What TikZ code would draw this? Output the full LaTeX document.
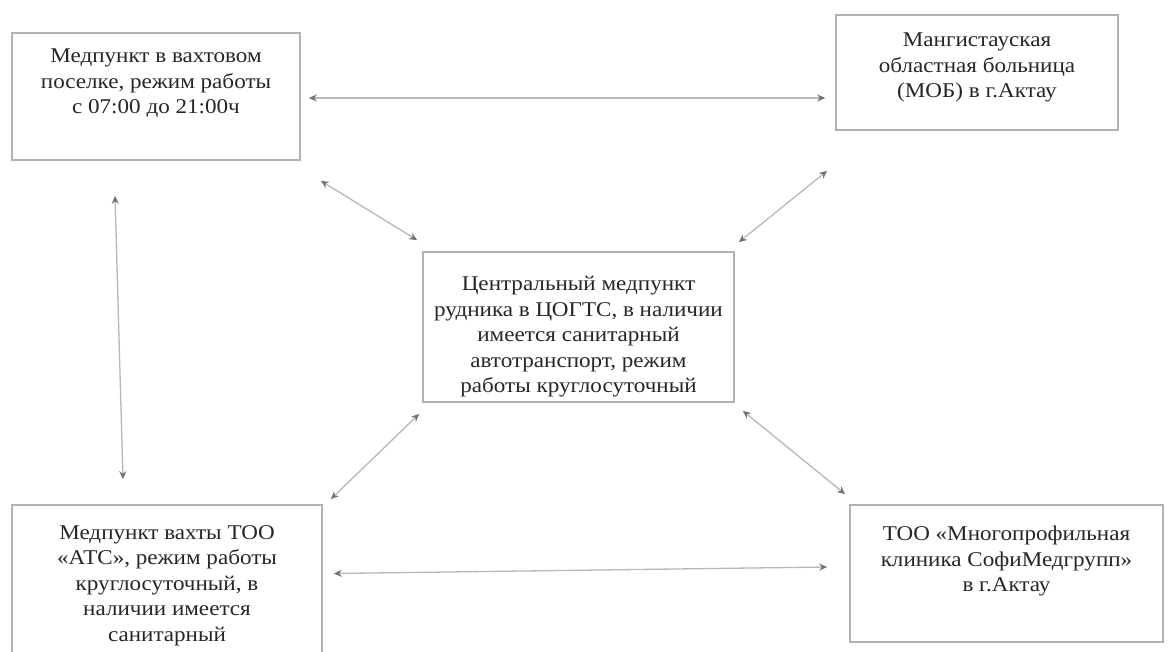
\documentclass[tikz,border=0pt]{standalone}
\usepackage{fontspec}
\setmainfont{Liberation Serif}
\newfontfamily\wideserif[FakeStretch=1.1]{Liberation Serif}
\usetikzlibrary{arrows.meta,calc}
\begin{document}
\begin{tikzpicture}[x=1pt,y=-1pt,
  box/.style={draw=black!30, line width=1.6pt, fill=white, inner sep=0pt},
  txt/.style={align=center, font=\wideserif\fontsize{21}{25.5}\selectfont, text=black!85, inner sep=0pt, anchor=north},
  arr/.style={draw=black!28, line width=1.3pt,
    {Stealth[length=8pt,width=7pt,color=black!55]}-{Stealth[length=8pt,width=7pt,color=black!55]}}]
\useasboundingbox (0,0) rectangle (1168,652);
\fill[white] (0,0) rectangle (1168,652);

\node[box, minimum width=288pt, minimum height=127pt] (b1) at (156,96.5) {};
\node[box, minimum width=282pt, minimum height=115pt] (b2) at (977,72.5) {};
\node[box, minimum width=311pt, minimum height=150pt] (b3) at (578.5,327) {};
\node[box, minimum width=310pt, minimum height=157pt] (b4) at (167,583.5) {};
\node[box, minimum width=313pt, minimum height=137pt] (b5) at (1006.5,573.5) {};

\node[txt] (t1) at (156,49) {Медпункт в вахтовом\\поселке, режим работы\\с 07:00 до 21:00ч};
\node[txt] (t2) at (977,33) {Мангистауская\\областная больница\\(МОБ) в г.Актау};
\node[txt] (t3) at (578.5,276) {Центральный медпункт\\рудника в ЦОГТС, в наличии\\имеется санитарный\\автотранспорт, режим\\работы круглосуточный};
\node[txt] (t4) at (167,525) {Медпункт вахты ТОО\\«АТС», режим работы\\круглосуточный, в\\наличии имеется\\санитарный};
\node[txt] (t5) at (1006.5,526) {ТОО «Многопрофильная\\клиника СофиМедгрупп»\\в г.Актау};

\draw[arr] ($(b1.east)+(8,1.5)$) -- ($(b2.west)+(-10,25.5)$);
\draw[arr] ($(b1.south)+(-41,35)$) -- ($(b4.north)+(-44,-25)$);
\draw[arr] ($(b1.south east)+(20,20)$) -- ($(b3.north west)+(-5,-11)$);
\draw[arr] ($(b2.south west)+(-8,40)$) -- ($(b3.north east)+(4,-9)$);
\draw[arr] ($(b3.south west)+(-3,11)$) -- ($(b4.north east)+(8,-5)$);
\draw[arr] ($(b3.south east)+(8,8)$) -- ($(b5.north west)+(-4,-10)$);
\draw[arr] ($(b4.east)+(11,-10)$) -- ($(b5.west)+(-22,-6.5)$);
\end{tikzpicture}
\end{document}
